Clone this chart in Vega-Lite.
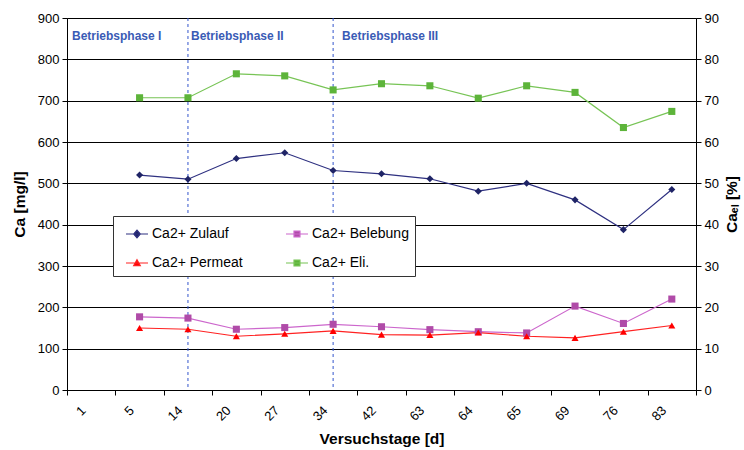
{
  "$schema": "https://vega.github.io/schema/vega-lite/v6.json",
  "width": 629,
  "height": 372,
  "autosize": {"type": "none"},
  "padding": {"left": 67, "top": 18, "right": 48, "bottom": 60},
  "background": "white",
  "config": {
    "font": "Liberation Sans",
    "view": {"stroke": "#8c8c8c", "strokeWidth": 1},
    "axis": {
      "labelFont": "Liberation Sans",
      "labelFontSize": 13,
      "labelColor": "#000",
      "titleFont": "Liberation Sans Narrow, Arial Narrow, Liberation Sans",
      "titleFontSize": 15.5,
      "titleFontWeight": "bold",
      "titleColor": "#000",
      "domainColor": "#000",
      "domainWidth": 1,
      "tickColor": "#000",
      "tickSize": 5
    }
  },
  "datasets": {
    "calcium": [
      {"tag": "5", "serie": "Ca2+ Zulauf", "wert": 520},
      {"tag": "14", "serie": "Ca2+ Zulauf", "wert": 510},
      {"tag": "20", "serie": "Ca2+ Zulauf", "wert": 560},
      {"tag": "27", "serie": "Ca2+ Zulauf", "wert": 574},
      {"tag": "34", "serie": "Ca2+ Zulauf", "wert": 531},
      {"tag": "42", "serie": "Ca2+ Zulauf", "wert": 523},
      {"tag": "63", "serie": "Ca2+ Zulauf", "wert": 511},
      {"tag": "64", "serie": "Ca2+ Zulauf", "wert": 481},
      {"tag": "65", "serie": "Ca2+ Zulauf", "wert": 500},
      {"tag": "69", "serie": "Ca2+ Zulauf", "wert": 460},
      {"tag": "76", "serie": "Ca2+ Zulauf", "wert": 388},
      {"tag": "83", "serie": "Ca2+ Zulauf", "wert": 485},
      {"tag": "5", "serie": "Ca2+ Belebung", "wert": 177},
      {"tag": "14", "serie": "Ca2+ Belebung", "wert": 174},
      {"tag": "20", "serie": "Ca2+ Belebung", "wert": 147},
      {"tag": "27", "serie": "Ca2+ Belebung", "wert": 151},
      {"tag": "34", "serie": "Ca2+ Belebung", "wert": 159},
      {"tag": "42", "serie": "Ca2+ Belebung", "wert": 153},
      {"tag": "63", "serie": "Ca2+ Belebung", "wert": 146},
      {"tag": "64", "serie": "Ca2+ Belebung", "wert": 141},
      {"tag": "65", "serie": "Ca2+ Belebung", "wert": 138},
      {"tag": "69", "serie": "Ca2+ Belebung", "wert": 203},
      {"tag": "76", "serie": "Ca2+ Belebung", "wert": 161},
      {"tag": "83", "serie": "Ca2+ Belebung", "wert": 220},
      {"tag": "5", "serie": "Ca2+ Permeat", "wert": 150},
      {"tag": "14", "serie": "Ca2+ Permeat", "wert": 147},
      {"tag": "20", "serie": "Ca2+ Permeat", "wert": 130},
      {"tag": "27", "serie": "Ca2+ Permeat", "wert": 136},
      {"tag": "34", "serie": "Ca2+ Permeat", "wert": 143},
      {"tag": "42", "serie": "Ca2+ Permeat", "wert": 134},
      {"tag": "63", "serie": "Ca2+ Permeat", "wert": 133},
      {"tag": "64", "serie": "Ca2+ Permeat", "wert": 139},
      {"tag": "65", "serie": "Ca2+ Permeat", "wert": 130},
      {"tag": "69", "serie": "Ca2+ Permeat", "wert": 126},
      {"tag": "76", "serie": "Ca2+ Permeat", "wert": 141},
      {"tag": "83", "serie": "Ca2+ Permeat", "wert": 156}
    ],
    "elimination": [
      {"tag": "5", "serie": "Ca2+ Eli.", "wert": 70.7},
      {"tag": "14", "serie": "Ca2+ Eli.", "wert": 70.7},
      {"tag": "20", "serie": "Ca2+ Eli.", "wert": 76.5},
      {"tag": "27", "serie": "Ca2+ Eli.", "wert": 76.0},
      {"tag": "34", "serie": "Ca2+ Eli.", "wert": 72.6},
      {"tag": "42", "serie": "Ca2+ Eli.", "wert": 74.1},
      {"tag": "63", "serie": "Ca2+ Eli.", "wert": 73.6},
      {"tag": "64", "serie": "Ca2+ Eli.", "wert": 70.6},
      {"tag": "65", "serie": "Ca2+ Eli.", "wert": 73.6},
      {"tag": "69", "serie": "Ca2+ Eli.", "wert": 72.0},
      {"tag": "76", "serie": "Ca2+ Eli.", "wert": 63.5},
      {"tag": "83", "serie": "Ca2+ Eli.", "wert": 67.4}
    ],
    "phasen": [
      {"tag": "14"},
      {"tag": "34"}
    ]
  },
  "encoding": {
    "x": {
      "field": "tag",
      "type": "ordinal",
      "scale": {
        "domain": ["1", "5", "14", "20", "27", "34", "42", "63", "64", "65", "69", "76", "83"],
        "paddingInner": 0,
        "paddingOuter": 0
      },
      "axis": {
        "title": "Versuchstage [d]",
        "tickBand": "extent",
        "labelAngle": -45,
        "labelAlign": "right",
        "labelBaseline": "middle",
        "labelOffset": -8,
        "labelPadding": 13,
        "labelOverlap": false,
        "titlePadding": 8,
        "grid": false
      }
    }
  },
  "layer": [
    {
      "layer": [
        {
          "data": {"name": "phasen"},
          "mark": {"type": "rule", "color": "#3355cc", "strokeWidth": 1, "strokeDash": [3, 3]},
          "encoding": {}
        },
        {
          "data": {"name": "calcium"},
          "mark": {"type": "line", "strokeWidth": 1.2},
          "encoding": {
            "y": {
              "field": "wert",
              "type": "quantitative",
              "scale": {"domain": [0, 900], "nice": false},
              "axis": {
                "title": "Ca [mg/l]",
                "values": [0, 100, 200, 300, 400, 500, 600, 700, 800, 900],
                "grid": true,
                "gridColor": "#000",
                "gridWidth": 1,
                "labelPadding": 3,
                "titlePadding": 10
              }
            },
            "stroke": {
              "field": "serie",
              "type": "nominal",
              "scale": {
                "domain": ["Ca2+ Zulauf", "Ca2+ Belebung", "Ca2+ Permeat", "Ca2+ Eli."],
                "range": ["#2e3080", "#cc66cc", "#ff2222", "#77c455"]
              },
              "legend": {
                "title": null,
                "orient": "none",
                "legendX": 46,
                "legendY": 198,
                "direction": "horizontal",
                "columns": 2,
                "fillColor": "white",
                "strokeColor": "#333",
                "padding": 6,
                "symbolOffset": 6,
                "symbolSize": 484,
                "symbolStrokeWidth": 1.2,
                "labelFont": "Liberation Sans",
                "labelFontSize": 14,
                "labelColor": "#000",
                "labelOffset": 3,
                "columnPadding": 36,
                "rowPadding": 10,
                "encode": {
                  "symbols": {
                    "update": {
                      "shape": {"signal": "datum.value === 'Ca2+ Zulauf' ? 'M-1,0H1M0,-0.34L0.3,0L0,0.34L-0.3,0Z' : datum.value === 'Ca2+ Permeat' ? 'M-1,0H1M0,-0.3L0.3,0.24L-0.3,0.24Z' : 'M-1,0H1M-0.27,-0.27H0.27V0.27H-0.27Z'"},
                      "fill": {"signal": "datum.value === 'Ca2+ Zulauf' ? '#1f2466' : datum.value === 'Ca2+ Belebung' ? '#b04ba8' : datum.value === 'Ca2+ Permeat' ? '#ff0000' : '#5db43a'"},
                      "fillOpacity": {"value": 1},
                      "opacity": {"value": 1}
                    }
                  }
                }
              }
            }
          }
        },
        {
          "data": {"name": "calcium"},
          "transform": [{"filter": "datum.serie === 'Ca2+ Zulauf'"}],
          "mark": {"type": "point", "shape": "diamond", "filled": true, "opacity": 1, "size": 50, "color": "#1f2466"},
          "encoding": {"y": {"field": "wert", "type": "quantitative"}}
        },
        {
          "data": {"name": "calcium"},
          "transform": [{"filter": "datum.serie === 'Ca2+ Belebung'"}],
          "mark": {"type": "point", "shape": "square", "filled": true, "opacity": 1, "size": 50, "color": "#b04ba8"},
          "encoding": {"y": {"field": "wert", "type": "quantitative"}}
        },
        {
          "data": {"name": "calcium"},
          "transform": [{"filter": "datum.serie === 'Ca2+ Permeat'"}],
          "mark": {"type": "point", "shape": "triangle-up", "filled": true, "opacity": 1, "size": 50, "color": "#ff0000"},
          "encoding": {"y": {"field": "wert", "type": "quantitative"}}
        },
        {
          "data": {"values": [{"tag": "1", "text": "Betriebsphase I"}]},
          "mark": {"type": "text", "align": "left", "baseline": "middle", "dx": 5, "font": "Liberation Sans", "fontSize": 12, "fontWeight": "bold", "color": "#3a5bb5"},
          "encoding": {
            "x": {"field": "tag", "type": "ordinal", "bandPosition": 0},
            "y": {"datum": 857, "type": "quantitative"},
            "text": {"field": "text"}
          }
        },
        {
          "data": {"values": [{"tag": "14", "text": "Betriebsphase II"}]},
          "mark": {"type": "text", "align": "left", "baseline": "middle", "dx": 3, "font": "Liberation Sans", "fontSize": 12, "fontWeight": "bold", "color": "#3a5bb5"},
          "encoding": {
            "y": {"datum": 857, "type": "quantitative"},
            "text": {"field": "text"}
          }
        },
        {
          "data": {"values": [{"tag": "34", "text": "Betriebsphase III"}]},
          "mark": {"type": "text", "align": "left", "baseline": "middle", "dx": 9, "font": "Liberation Sans", "fontSize": 12, "fontWeight": "bold", "color": "#3a5bb5"},
          "encoding": {
            "y": {"datum": 857, "type": "quantitative"},
            "text": {"field": "text"}
          }
        }
      ]
    },
    {
      "data": {"name": "elimination"},
      "layer": [
        {
          "mark": {"type": "line", "strokeWidth": 1.2},
          "encoding": {
            "y": {
              "field": "wert",
              "type": "quantitative",
              "scale": {"domain": [0, 90], "nice": false},
              "axis": {
                "orient": "right",
                "title": "Caₑₗ [%]",
                "titleAngle": -90,
                "titleBaseline": "top",
                "values": [0, 10, 20, 30, 40, 50, 60, 70, 80, 90],
                "grid": false,
                "labelPadding": 3,
                "titlePadding": 6
              }
            },
            "stroke": {"field": "serie", "type": "nominal"}
          }
        },
        {
          "mark": {"type": "point", "shape": "square", "filled": true, "opacity": 1, "size": 50, "color": "#5db43a"},
          "encoding": {"y": {"field": "wert", "type": "quantitative"}}
        }
      ]
    }
  ],
  "resolve": {"scale": {"y": "independent"}}
}
